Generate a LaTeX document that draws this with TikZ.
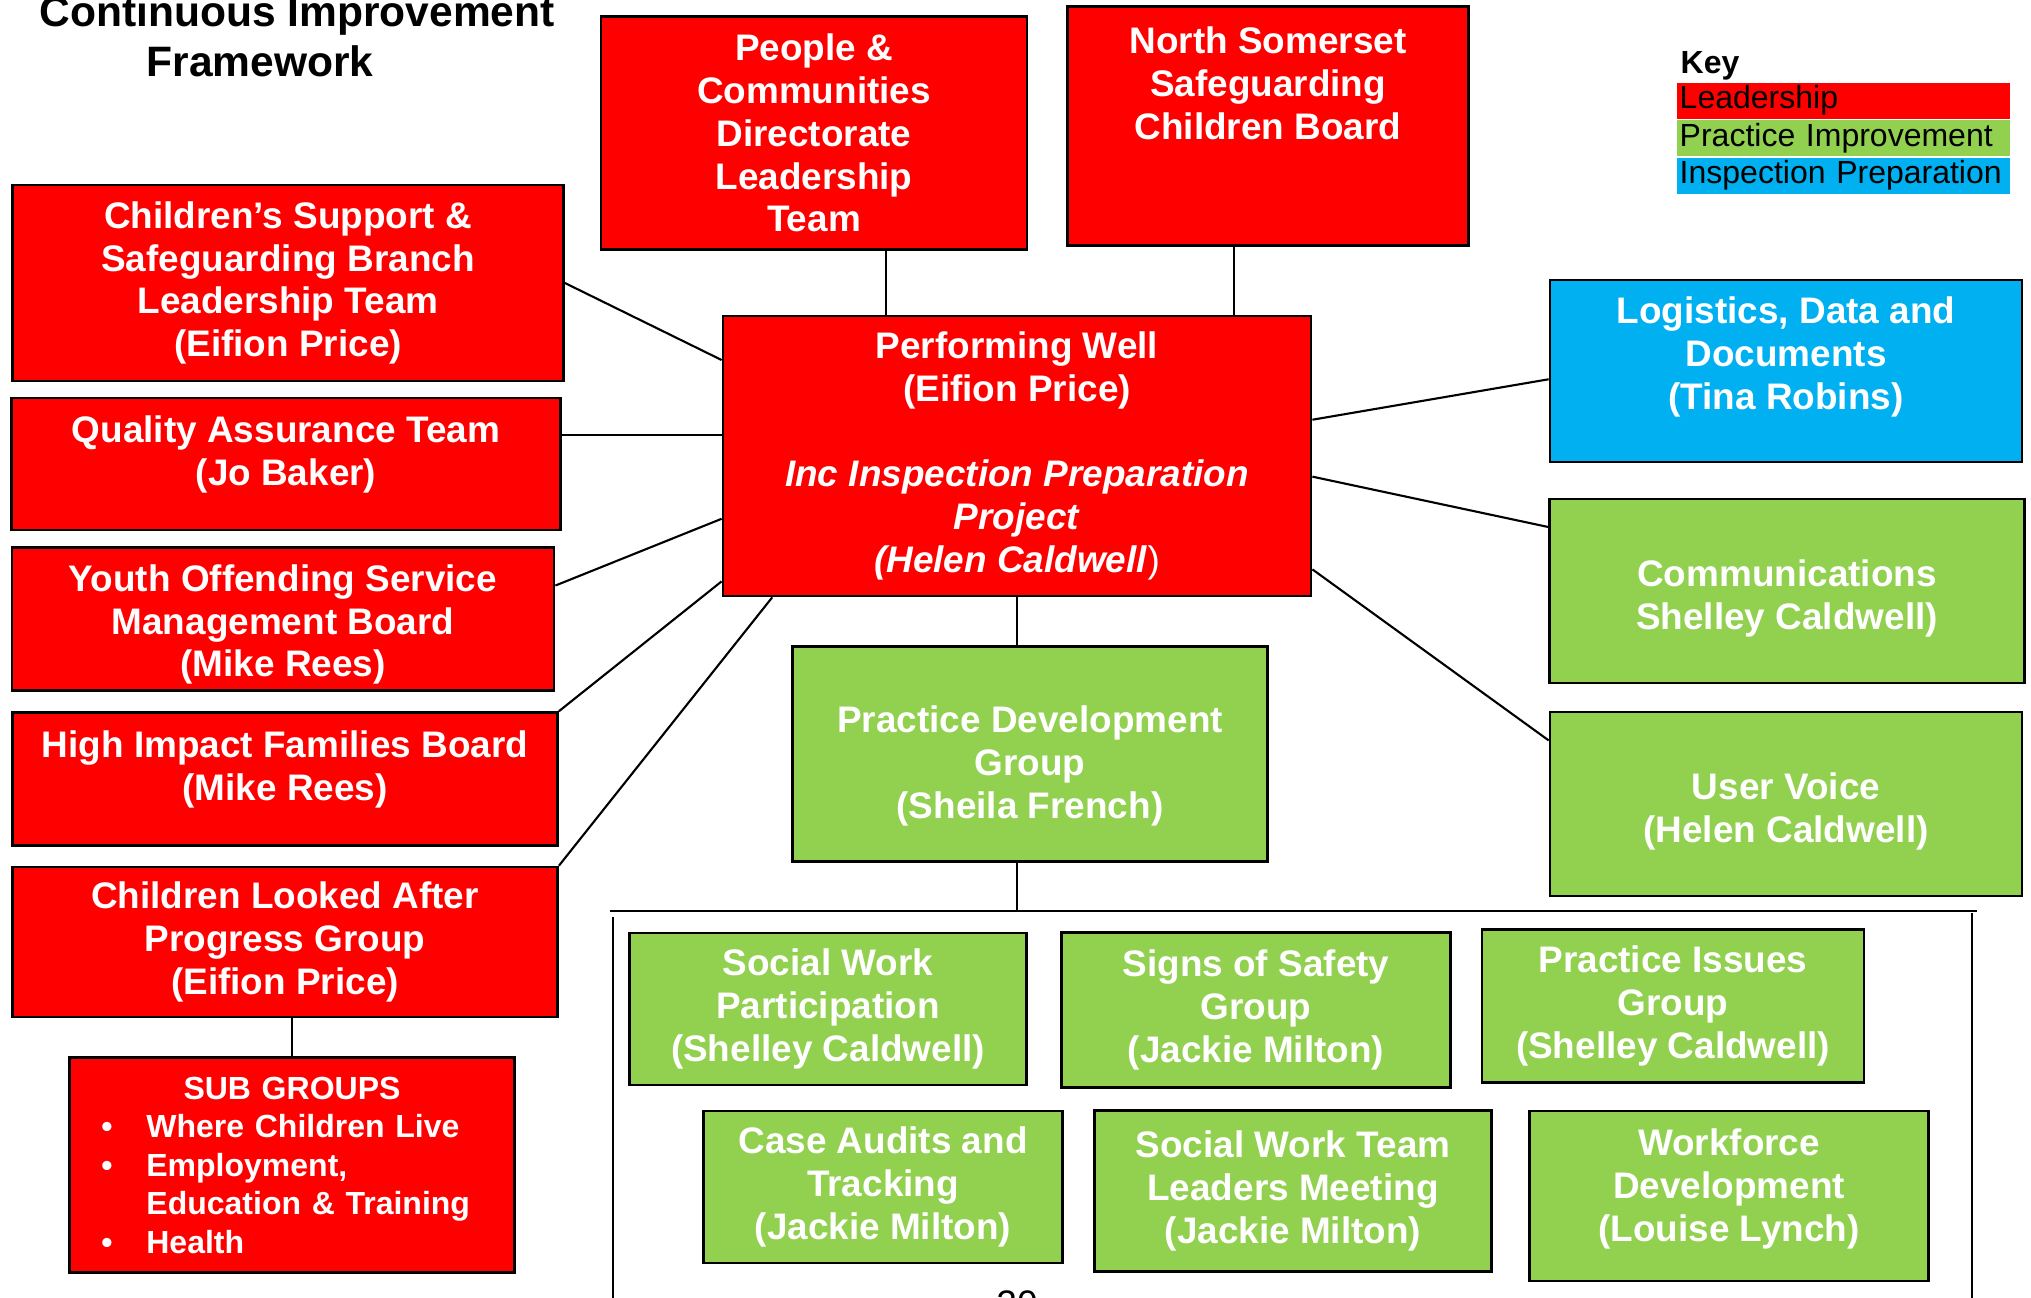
\documentclass[tikz,border=0pt]{standalone}
\usepackage{fontspec}
\setmainfont{Liberation Sans}
\usepackage{tikz}
\usetikzlibrary{positioning}
\usepackage{xcolor}

\definecolor{ciRed}{HTML}{FF0000}
\definecolor{ciGreen}{HTML}{92D050}
\definecolor{ciBlue}{HTML}{00B0F0}

\newcommand{\cifont}{\fontsize{10.5}{12.2}\selectfont\bfseries}
\newcommand{\subfont}{\fontsize{9.1}{10.95}\selectfont\bfseries}
\newcommand{\keyfont}{\fontsize{9.1}{10.3}\selectfont}
\newcommand{\titlefont}{\fontsize{12.1}{14.1}\selectfont\bfseries}
% text block moved up (or down) inside its box
\newcommand{\nudge}[2]{\raisebox{#1}[\height][\depth]{\begin{tabular}{@{}c@{}}#2\end{tabular}}}

\begin{document}
\begin{tikzpicture}[
    x=0.01cm, y=-0.01cm,
    block/.style={rectangle, draw=black, line width=0.7pt, text=white, align=center, inner sep=0pt, font=\cifont},
    lead/.style={block, fill=ciRed},
    practice/.style={block, fill=ciGreen},
    inspect/.style={block, fill=ciBlue},
    keyrow/.style={anchor=north west, minimum width=3.33cm, minimum height=0.36cm, inner ysep=0pt, inner xsep=0.3mm, text width=3.27cm, align=left, font=\keyfont},
    line/.style={draw, line width=0.6pt}
]
    \useasboundingbox (0,0) rectangle (2031,1298);

    % Title and key
    \node (title) [anchor=north, align=center, inner sep=0pt, font=\titlefont] at (297,-5)
        {Continuous Improvement\\Framework\makebox[7.4mm]{}};
    \node (key) [anchor=base west, inner sep=0pt, font=\keyfont\bfseries] at (1680,74) {Key};
    \node (keylead) [keyrow, fill=ciRed] at (1676,82) {Leadership};
    \node (keyprac) [keyrow, fill=ciGreen, below=0pt of keylead] {Practice Improvement};
    \node (keyinsp) [keyrow, fill=ciBlue, below=0pt of keyprac] {Inspection Preparation};

    % Nodes
    \node (pcd) [lead, minimum width=4.26cm, minimum height=2.33cm] at (814,133)
        {People \&\\Communities\\Directorate\\Leadership\\Team};
    \node (nsscb) [lead, minimum width=4.01cm, minimum height=2.39cm] at (1268,126)
        {North Somerset\\Safeguarding\\Children Board\\~\\~};
    \node (pw) [lead, minimum width=5.88cm, minimum height=2.80cm] at (1017,456)
        {Performing Well\\(Eifion Price)\\~\\\textit{Inc Inspection Preparation}\\\textit{Project}\\\textit{(Helen Caldwell}{\mdseries\upshape)}};

    \node (csb) [lead, minimum width=5.51cm, minimum height=1.96cm] at (288,283)
        {Children’s Support \&\\Safeguarding Branch\\Leadership Team\\(Eifion Price)};
    \node (qat) [lead, minimum width=5.49cm, minimum height=1.32cm] at (286,464)
        {\nudge{0.9mm}{Quality Assurance Team\\(Jo Baker)}};
    \node (yos) [lead, minimum width=5.42cm, minimum height=1.43cm] at (283,619)
        {\nudge{-0.65mm}{Youth Offending Service\\Management Board\\(Mike Rees)}};
    \node (hif) [lead, minimum width=5.45cm, minimum height=1.33cm] at (285,779)
        {\nudge{0.9mm}{High Impact Families Board\\(Mike Rees)}};
    \node (cla) [lead, minimum width=5.45cm, minimum height=1.50cm] at (285,942)
        {Children Looked After\\Progress Group\\(Eifion Price)};
    \node (sub) [lead, minimum width=4.45cm, minimum height=2.15cm, text width=4.45cm, align=left, font=\subfont] at (292,1165)
        {\makebox[\linewidth][c]{SUB GROUPS}\\
         \hspace*{3.2mm}\makebox[4.5mm][l]{\textbullet}Where Children Live\\
         \hspace*{3.2mm}\makebox[4.5mm][l]{\textbullet}Employment,\\
         \hspace*{7.7mm}Education \& Training\\
         \hspace*{3.2mm}\makebox[4.5mm][l]{\textbullet}Health};

    \node (ldd) [inspect, minimum width=4.72cm, minimum height=1.82cm] at (1786,371)
        {\nudge{1.3mm}{Logistics, Data and\\Documents\\(Tina Robins)}};
    \node (comm) [practice, minimum width=4.75cm, minimum height=1.84cm] at (1787,591)
        {\nudge{-0.8mm}{Communications\\Shelley Caldwell)}};
    \node (uv) [practice, minimum width=4.72cm, minimum height=1.84cm] at (1786,804)
        {\nudge{-0.85mm}{User Voice\\(Helen Caldwell)}};
    \node (pdg) [practice, minimum width=4.75cm, minimum height=2.15cm] at (1030,754)
        {\nudge{-1.3mm}{Practice Development\\Group\\(Sheila French)}};

    \node (swp) [practice, minimum width=3.97cm, minimum height=1.52cm] at (828,1009)
        {Social Work\\Participation\\(Shelley Caldwell)};
    \node (sos) [practice, minimum width=3.89cm, minimum height=1.55cm] at (1256,1010)
        {Signs of Safety\\Group\\(Jackie Milton)};
    \node (pig) [practice, minimum width=3.82cm, minimum height=1.53cm] at (1673,1006)
        {Practice Issues\\Group\\(Shelley Caldwell)};
    \node (cat) [practice, minimum width=3.59cm, minimum height=1.52cm] at (883,1187)
        {Case Audits and\\Tracking\\(Jackie Milton)};
    \node (swtl) [practice, minimum width=3.97cm, minimum height=1.61cm] at (1293,1191)
        {Social Work Team\\Leaders Meeting\\(Jackie Milton)};
    \node (wfd) [practice, minimum width=3.99cm, minimum height=1.70cm] at (1729,1196)
        {\nudge{0.6mm}{Workforce\\Development\\(Louise Lynch)}};

    \node (pagenum) [anchor=base, inner sep=0pt, font=\fontsize{10.5}{12}\selectfont] at (1017,1316) {20};

    % Frame round the practice groups
    \coordinate (barL) at (610,911);
    \coordinate (barR) at (1977,911);
    \coordinate (frameLtop) at (613,917);
    \coordinate (frameLbot) at (613,1298);
    \coordinate (frameRtop) at (1972,913);
    \coordinate (frameRbot) at (1972,1298);

    % Paths
    \path [line] ([xshift=-1.31cm]pw.north) -- ([xshift=-1.31cm]pw.north |- pcd.south);
    \path [line] ([xshift=2.17cm]pw.north) -- ([xshift=2.17cm]pw.north |- nsscb.south);
    \path [line] (csb.east) -- (pw.162.6);
    \path [line] (pw.176.5) -- (pw.176.5 -| qat.east);
    \path [line] (yos.7.2) -- (pw.192.8);
    \path [line] (hif.north east) -- (pw.203.7);
    \path [line] (cla.north east) -- (pw.210.2);
    \path [line] (sub.north) -- (sub.north |- cla.south);
    \path [line] (pw.south) -- (pw.south |- pdg.north);
    \path [line] (pw.7.4) -- (ldd.182);
    \path [line] (pw.356.7) -- (comm.165.1);
    \path [line] (pw.339.7) -- (uv.165.5);
    \path [line] (pw.south |- pdg.south) -- (pw.south |- barL);
    \path [line] (barL) -- (barR);
    \path [line] (frameLtop) -- (frameLbot);
    \path [line] (frameRtop) -- (frameRbot);
\end{tikzpicture}
\end{document}
